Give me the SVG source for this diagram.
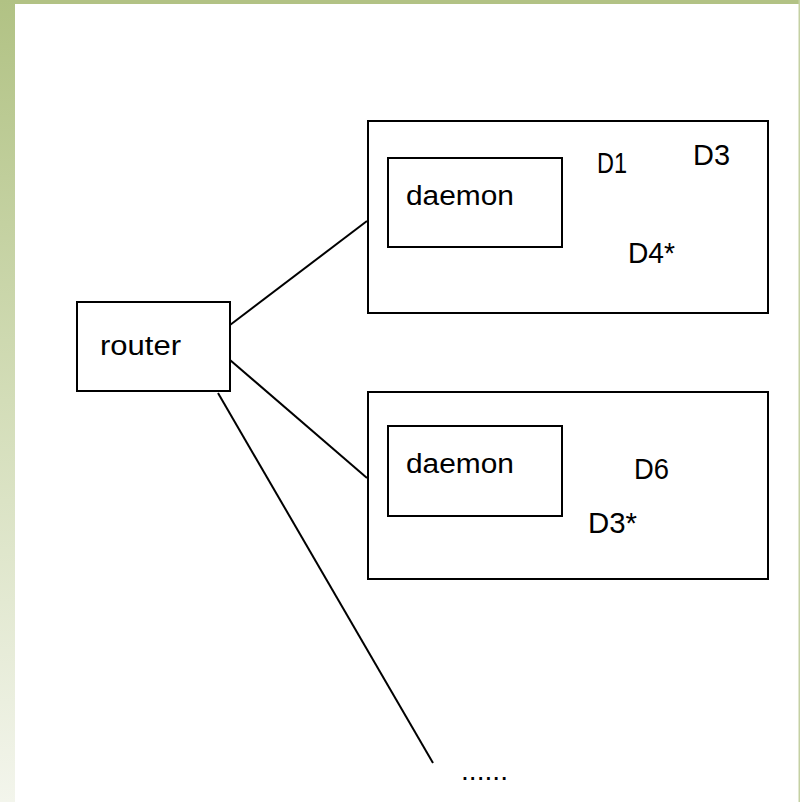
<svg xmlns="http://www.w3.org/2000/svg" width="800" height="802" viewBox="0 0 800 802">
<defs>
<linearGradient id="side" x1="0" y1="0" x2="0" y2="1">
<stop offset="0" stop-color="#b1c284"/>
<stop offset="0.5" stop-color="#d3ddb8"/>
<stop offset="1" stop-color="#f3f5ec"/>
</linearGradient>
<style>
.box{fill:none;stroke:#000;stroke-width:2}
.t{font-family:"Liberation Sans",Arial,sans-serif;font-size:27px;fill:#000}
.d{font-size:29px}
.c{stroke:#000;stroke-width:2;fill:none}
</style>
</defs>
<rect x="0" y="0" width="800" height="802" fill="#fff"/>
<rect x="0" y="0" width="800" height="4" fill="#b2c285"/>
<rect x="0" y="0" width="15" height="802" fill="url(#side)"/>
<rect x="798.5" y="0" width="1.5" height="802" fill="#c5d1a4"/>
<g id="connectors">
<line class="c" x1="230" y1="325" x2="367" y2="221"/>
<line class="c" x1="230" y1="360" x2="367" y2="478"/>
<line class="c" x1="218" y1="393" x2="433" y2="763"/>
</g>
<g id="router">
<rect class="box" x="77" y="302" width="153" height="89"/>
<text class="t" x="100" y="355" font-size="25" textLength="81" lengthAdjust="spacingAndGlyphs">router</text>
</g>
<g id="host1">
<rect class="box" x="368" y="121" width="400" height="192"/>
<text class="t d" x="597" y="173" textLength="30" lengthAdjust="spacingAndGlyphs">D1</text>
<text class="t d" x="693" y="165" textLength="37" lengthAdjust="spacingAndGlyphs">D3</text>
<text class="t d" x="628" y="263" textLength="47" lengthAdjust="spacingAndGlyphs">D4*</text>
</g>
<g id="daemon1">
<rect class="box" x="388" y="158" width="174" height="89"/>
<text class="t" x="406" y="205" textLength="108" lengthAdjust="spacingAndGlyphs">daemon</text>
</g>
<g id="host2">
<rect class="box" x="368" y="392" width="400" height="187"/>
<text class="t d" x="634" y="479" textLength="35" lengthAdjust="spacingAndGlyphs">D6</text>
<text class="t d" x="588" y="533" textLength="49" lengthAdjust="spacingAndGlyphs">D3*</text>
</g>
<g id="daemon2">
<rect class="box" x="388" y="426" width="174" height="90"/>
<text class="t" x="406" y="473" textLength="108" lengthAdjust="spacingAndGlyphs">daemon</text>
</g>
<g id="more">
<text class="t" x="461" y="780" font-size="20" textLength="47" lengthAdjust="spacingAndGlyphs">......</text>
</g>
</svg>
